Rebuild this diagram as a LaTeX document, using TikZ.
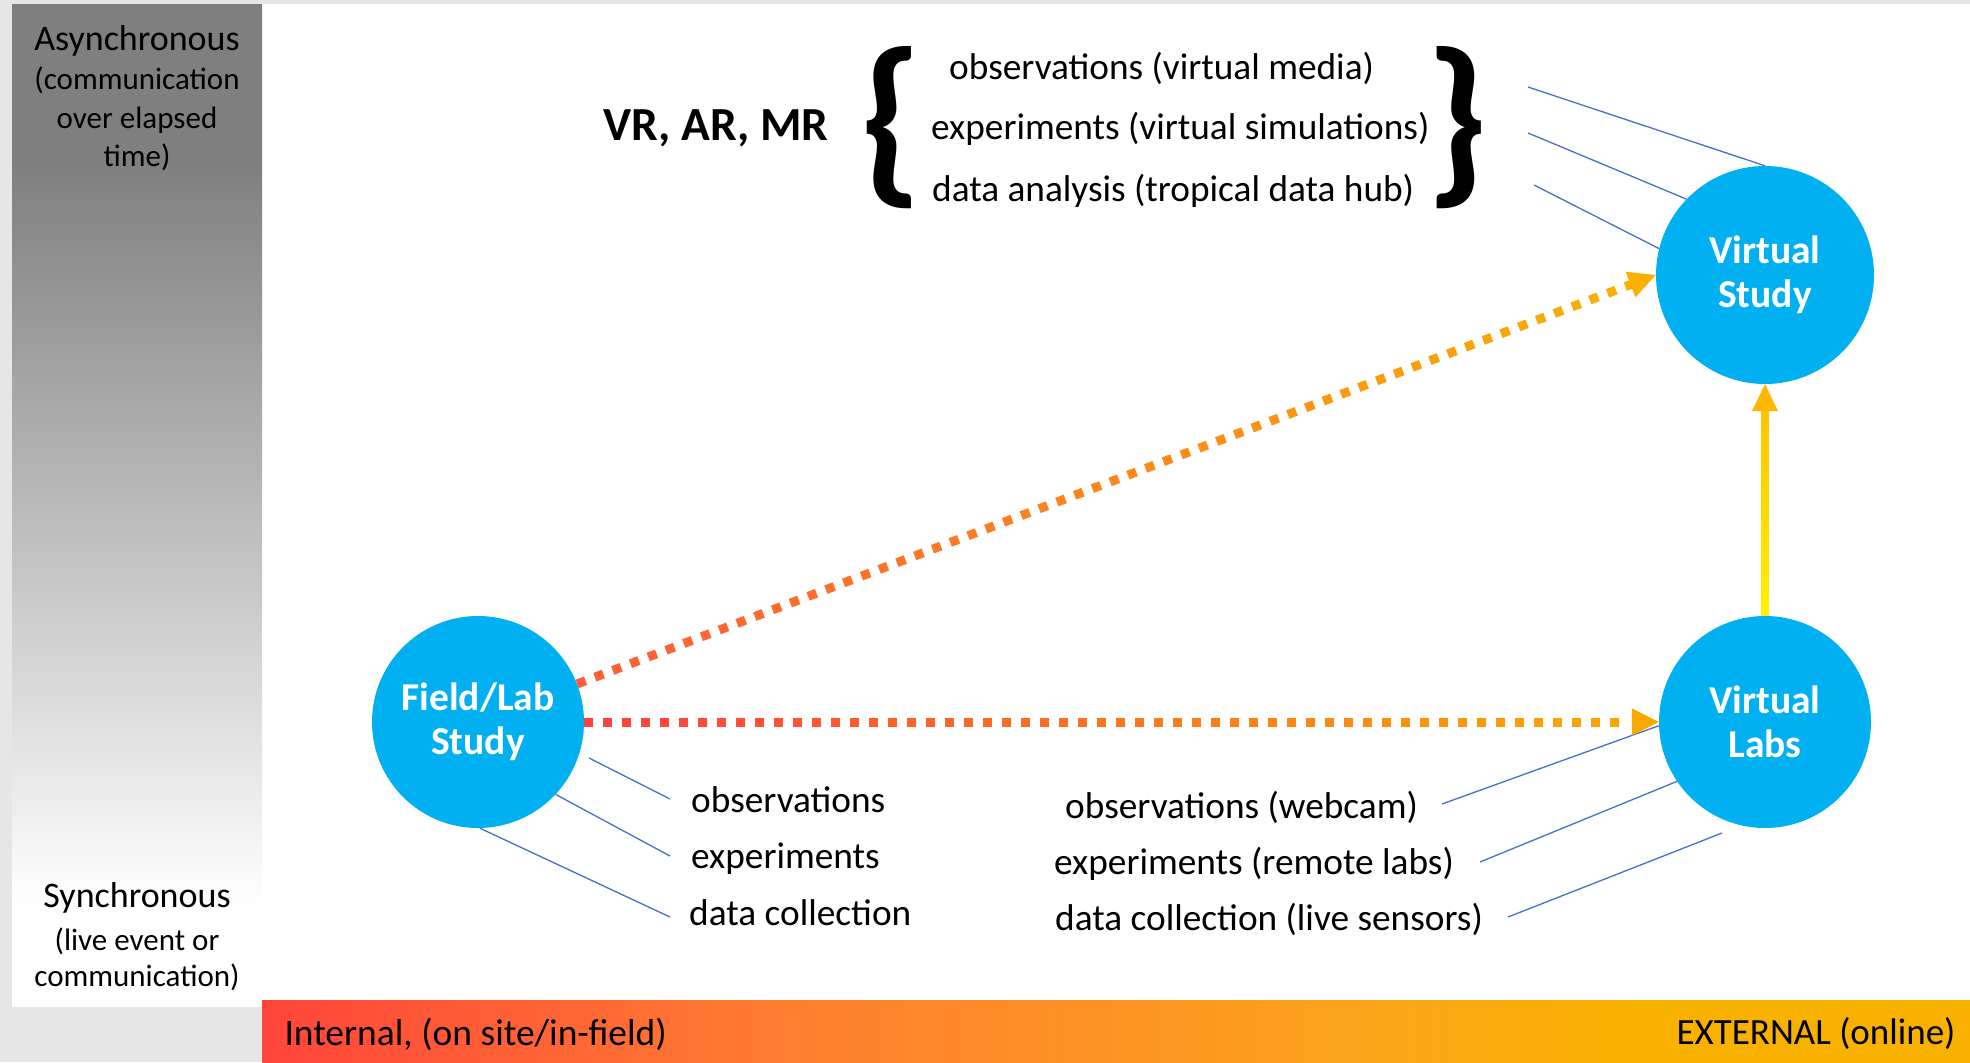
\documentclass[tikz,border=0pt]{standalone}
\usepackage{fontspec}
\setmainfont{Carlito}
\usetikzlibrary{arrows.meta,calc,decorations.markings}

\definecolor{bgG}{HTML}{E6E6E6}
\definecolor{cyanC}{HTML}{00B0F0}
\definecolor{blueL}{HTML}{4472C4}
\definecolor{redD}{HTML}{FF4040}
\definecolor{orgD}{HTML}{FF5C38}
\definecolor{ambD}{HTML}{FBB000}
\definecolor{ambH}{HTML}{F9A800}
\definecolor{yelS}{HTML}{FFF200}
\definecolor{gldS}{HTML}{FFC400}
\definecolor{gldA}{HTML}{FFB800}
\definecolor{barA}{HTML}{FF453A}
\definecolor{barB}{HTML}{FF7D30}
\definecolor{barC}{HTML}{FBA51A}
\definecolor{barD}{HTML}{F9B100}
\definecolor{panG}{HTML}{7F7F7F}

\pgfdeclareverticalshading{panelsh}{100bp}{color(0bp)=(white); color(30bp)=(white); color(67bp)=(panG); color(100bp)=(panG)}
\pgfdeclarehorizontalshading{barsh}{100bp}{color(0bp)=(barA); color(25bp)=(barA); color(40bp)=(barB); color(57.5bp)=(barC); color(65bp)=(barD); color(100bp)=(barD)}

\tikzset{
  circ/.style={circle, fill=cyanC, minimum size=212bp, inner sep=0pt, text=white,
    font=\bfseries\fontsize{39.5bp}{44bp}\selectfont, align=center},
  lbl/.style={anchor=west, inner sep=0pt, font=\fontsize{37.3bp}{44bp}\selectfont},
  bline/.style={draw=blueL, line width=1.3bp},
  gdots/.style n args={2}{decoration={markings,
      mark=between positions 4.5bp and 1 step 19bp with {
        \pgfmathsetmacro\gfr{(\pgfkeysvalueof{/pgf/decoration/mark info/distance from start})/(\pgfdecoratedpathlength)*100}
        \fill[fill={#2!\gfr!#1}] (-4.5bp,-4.5bp) rectangle (4.5bp,4.5bp);}},
    postaction={decorate}},
  tipA/.style={line width=1bp, -{Triangle[length=27bp,width=27bp]}},
  brc/.style={inner sep=0pt, font=\bfseries\fontsize{185bp}{185bp}\selectfont}
}

\begin{document}
\begin{tikzpicture}[x=1bp,y=-1bp]
\useasboundingbox (0,0) rectangle (1970,1062);
% backgrounds
\fill[bgG] (0,0) rectangle (1970,1062);
\fill[white] (262,4) rectangle (1970,1000);
\shade[shading=panelsh] (12,4) rectangle (262,1006);
\shade[shading=barsh] (262,1000) rectangle (1970,1062);

% left panel texts
\node[font=\fontsize{36bp}{43bp}\selectfont] (async) at (137,40.5) {Asynchronous};
\node[font=\fontsize{31bp}{38.5bp}\selectfont, align=center] (asyncd) at (137,119) {(communication\\over elapsed\\time)};
\node[font=\fontsize{36bp}{43bp}\selectfont] (sync) at (137,898) {Synchronous};
\node[font=\fontsize{31bp}{36bp}\selectfont, align=center] (syncd) at (137,959) {(live event or\\communication)};

% bottom bar texts
\node[anchor=west, font=\fontsize{37.5bp}{43bp}\selectfont] (intl) at (281,1034) {Internal, (on site/in-field)};
\node[anchor=east, font=\fontsize{37bp}{43bp}\selectfont] (extl) at (1959,1034) {EXTERNAL (online)};

% circles
\node[circ] (fl) at (478,722) {Field/Lab\\Study};
\node[circ] (vl) at (1765,722) {Virtual\\Labs};
\node[circ, minimum size=218bp] (vs) at (1765,275) {Virtual\\Study};

% top block
\node[font=\bfseries\fontsize{47.5bp}{50bp}\selectfont] (vr) at (716,128) {VR, AR, MR};
\node[brc] (lb) at (891,128) {\{};
\node[brc] (rb) at (1457,128) {\}};
\node[lbl] (t1) at (949,68) {observations (virtual media)};
\node[lbl] (t2) at (931,129) {experiments (virtual simulations)};
\node[lbl] (t3) at (932,191) {data analysis (tropical data hub)};

% field/lab labels
\node[lbl] (f1) at (691,800) {observations};
\node[lbl] (f2) at (691,859) {experiments};
\node[lbl] (f3) at (689,913) {data collection};

% virtual labs labels
\node[lbl] (l1) at (1065,807) {observations (webcam)};
\node[lbl] (l2) at (1054,864) {experiments (remote labs)};
\node[lbl] (l3) at (1055,919) {data collection (live sensors)};

% free ends of the thin lines
\coordinate (cf1) at (670,799);
\coordinate (cf2) at (670,856);
\coordinate (cf3) at (670,917);
\coordinate (cl1) at (1442,804);
\coordinate (cl2) at (1480,862);
\coordinate (cl3) at (1508,917);
\coordinate (cs1) at (1528,87);
\coordinate (cs2) at (1528,133);
\coordinate (cs3) at (1534,185);

% thin blue lines
\draw[bline] ($(fl.center)+(111,36)$) -- (cf1);
\draw[bline] (fl.-43) -- (cf2);
\draw[bline] (fl.-89) -- (cf3);
\draw[bline] (vl.182) -- (cl1);
\draw[bline] (vl.214) -- (cl2);
\draw[bline] ($(vl.center)+(-43,111)$) -- (cl3);
\draw[bline] (vs.north) -- (cs1);
\draw[bline] (vs.136) -- (cs2);
\draw[bline] (vs.166) -- (cs3);

% dotted arrows
\coordinate (hb) at ([xshift=-27bp]vl.west);
\path[gdots={redD}{ambH}] (fl.east) -- (hb);
\draw[ambH, tipA] (hb) -- (vl.west);

\coordinate (db) at ($(vs.west)!27bp!(fl.21)$);
\path[gdots={orgD}{ambD}] (fl.21) -- (db);
\draw[ambD, tipA] (db) -- (vs.west);

% vertical solid arrow
\shade[bottom color=yelS, top color=gldS] ($(vl.north)+(-3.75,0)$) rectangle ($(vs.south)+(3.75,26)$);
\draw[gldA, line width=1bp, -{Triangle[length=27bp,width=26bp]}] ($(vs.south)+(0,27)$) -- (vs.south);
\end{tikzpicture}
\end{document}
